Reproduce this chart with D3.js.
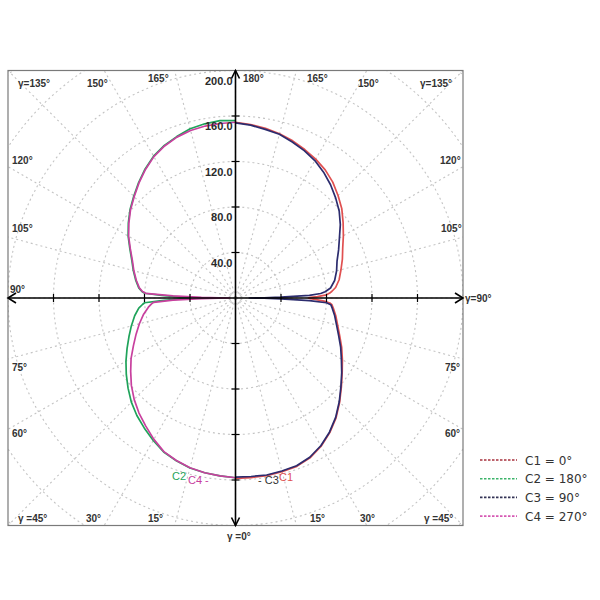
<!DOCTYPE html>
<html><head><meta charset="utf-8">
<script src="https://cdn.jsdelivr.net/npm/d3@7"></script>
<style>body{margin:0;background:#fff}svg{display:block}</style>
</head><body>
<svg id="chart" width="600" height="600"></svg>
<script>
// gamma angle (deg, 0 = straight down, 180 = straight up)
const gammaDeg = [0,5,10,15,20,25,30,35,40,45,50,55,60,65,70,75,80,84,86,87,88,89,89.5,90,90.5,91,92,93,94,96,100,105,110,115,120,125,130,135,140,145,150,155,160,165,170,175,180];
// C1 = 0° (right side)
const c1 = [158.5,158.5,158.5,158,157.5,155,150.5,144.5,137.5,129.5,121.5,114.5,108.5,103,97.5,93,89.5,86.5,85,83,78,70,66,64,66,72,80,83,85,88.5,92.5,96,100,104,109.5,115.5,122,127.5,133,137.5,141,144,147,149.5,151.5,153,154.5];
// C2 = 180° (left side)
const c2 = [158,157,156,154.7,152.2,149.4,144.6,139.7,134.9,129.5,123.3,117.2,111.2,105.2,99.7,94.8,90,85.5,82,80,65,48,42,40,42,48,65,80,82.5,85.5,89,93,97,102.5,109,115,121,126.5,132.5,138.5,144,148,151,154,155.5,156.5,156];
// C3 = 90° (right side)
const c3 = [157.5,157.5,158,157.5,157,154.5,150,144,137,129,121,114,107.5,102,96.5,92,88.5,85.5,84,80,65,40,25,12,25,40,65,75,79,84,88.5,92,95,100,105.5,112.5,119,124.5,130,135,139.5,143,146,149,150.5,152.5,154];
// C4 = 270° (left side)
const c4 = [158,157,156,154.5,152,149,143.5,137.5,132,126,119.5,112.5,106,99,93,87.5,82,77,74,72,55,30,15,5,15,30,55,79,82,85,88.5,92.5,96.5,102,108.5,114.5,120.5,126,132,138,143.5,147.5,150.5,152.5,153.5,154,154.5];

const seriesNames = ["C1 = 0°","C2 = 180°","C3 = 90°","C4 = 270°"];
const seriesSide = ["right","left","right","left"];
const seriesColors = ["#e05050","#1fa35a","#2c2c6e","#c8409e"];
const legendColors = ["#a8323e","#3cb46a","#333355","#d65ab4"];
const radialTicks = [40,80,120,160,200];
const radialTickLabels = ["40.0","80.0","120.0","160.0","200.0"];
const gridRadii = [40,80,120,160,200,240,280];
const spokeAngles = d3.range(0,360,15);

const svg = d3.select("#chart");
const cx = 235.5, cy = 298, R = 227.5;
const r = d3.scaleLinear().domain([0,200]).range([0,R]);

// clip to box
svg.append("defs").append("clipPath").attr("id","box")
  .append("rect").attr("x",cx-R).attr("y",cy-R).attr("width",2*R).attr("height",2*R);

// grid (drawn first, underneath)
const grid = svg.append("g").attr("clip-path","url(#box)").append("g").attr("transform",`translate(${cx},${cy})`);
grid.selectAll("circle.grid").data(gridRadii).join("circle")
  .attr("class","grid")
  .attr("r",d=>r(d)).attr("fill","none").attr("stroke","#c4c4c4")
  .attr("stroke-width",1.1).attr("stroke-dasharray","2,3");
grid.selectAll("line.spoke").data(spokeAngles).join("line")
  .attr("class","spoke")
  .attr("x1",0).attr("y1",0)
  .attr("x2",d=>Math.sin(d*Math.PI/180)*400).attr("y2",d=>-Math.cos(d*Math.PI/180)*400)
  .attr("stroke","#c4c4c4").attr("stroke-width",1.1).attr("stroke-dasharray","2,3");

// box
svg.append("rect").attr("x",cx-R).attr("y",cy-R).attr("width",2*R).attr("height",2*R)
  .attr("fill","none").attr("stroke","#7a7a7a").attr("stroke-width",1.2);

const g = svg.append("g").attr("transform",`translate(${cx},${cy})`);

// curves
const series = [c1,c2,c3,c4];
const drawOrder = [0,1,3,2];
drawOrder.forEach(i=>{
  const side = seriesSide[i];
  const line = d3.lineRadial()
    .angle((d,j)=> (side==="right" ? (180-gammaDeg[j]) : (180+gammaDeg[j]))*Math.PI/180)
    .radius(d=>r(d));
  g.append("path").datum(series[i]).attr("d",line)
    .attr("fill","none").attr("stroke",seriesColors[i]).attr("stroke-width",1.7)
    .attr("stroke-linejoin","round");
});

// axes
const ax = g.append("g").attr("stroke","#000").attr("fill","none").attr("stroke-width",1.6);
ax.append("line").attr("x1",-R).attr("x2",R).attr("y1",0).attr("y2",0);
ax.append("line").attr("x1",0).attr("x2",0).attr("y1",-R).attr("y2",R);
// arrows
ax.append("path").attr("d",`M${-R+8},-5 L${-R},0 L${-R+8},5`);
ax.append("path").attr("d",`M${R-8},-5 L${R},0 L${R-8},5`);
ax.append("path").attr("d",`M-4,${-R+8} L0,${-R} L4,${-R+8}`);
ax.append("path").attr("d",`M-4,${R-8} L0,${R} L4,${R-8}`);
// ticks
radialTicks.slice(0,4).forEach(v=>{
  [1,-1].forEach(s=>{
    ax.append("line").attr("x1",s*r(v)).attr("x2",s*r(v)).attr("y1",-4).attr("y2",4).attr("stroke-width",1.2);
    ax.append("line").attr("y1",s*r(v)).attr("y2",s*r(v)).attr("x1",-4).attr("x2",4).attr("stroke-width",1.2);
  });
});

// radial labels
g.selectAll("text.rl").data(radialTicks).join("text")
  .attr("class","rl")
  .attr("x",-3).attr("y",d=>-r(d)+14).attr("text-anchor","end")
  .attr("font-family","Liberation Sans, Arial, sans-serif").attr("font-size",11)
  .attr("font-weight","bold").attr("fill","#2a2a2a")
  .text((d,i)=>radialTickLabels[i]);

// angle labels (layout)
const angleLabelLayout = [
  ["γ=135°",18,87],["150°",87,87],["165°",148,82],["180°",243,82],["165°",307,82],["150°",358,87],["γ=135°",420,87],
  ["120°",12,164],["105°",12,232],["90°",10,293],["75°",12,371],["60°",12,437],
  ["120°",440,164],["105°",441,232],["75°",445,371],["60°",445,437],
  ["γ =45°",18,522],["30°",86,522],["15°",148,522],["15°",310,522],["30°",360,522],["γ =45°",424,522],
  ["γ=90°",465,302],["γ =0°",227,540]
];
svg.selectAll("text.al").data(angleLabelLayout).join("text")
  .attr("class","al")
  .attr("x",d=>d[1]).attr("y",d=>d[2])
  .attr("font-family","Liberation Sans, Arial, sans-serif").attr("font-size",10)
  .attr("font-weight","bold").attr("fill","#333")
  .text(d=>d[0]);

// curve annotations near bottom
const annLayout = [
  {i:1,text:"C2",x:172,y:480},
  {i:3,text:"C4 -",x:188,y:484},
  {i:2,text:"- C3",x:258,y:484},
  {i:0,text:"C1",x:279,y:481}
];
svg.selectAll("text.ann").data(annLayout).join("text")
  .attr("class","ann")
  .attr("x",d=>d.x).attr("y",d=>d.y)
  .attr("font-family","Liberation Sans, Arial, sans-serif").attr("font-size",11)
  .attr("fill",d=>d.i===2?"#333":seriesColors[d.i])
  .text(d=>d.text);

// legend
const leg = svg.append("g").attr("transform","translate(480,460)");
seriesNames.forEach((name,i)=>{
  const y = i*18.7;
  leg.append("line").attr("x1",0).attr("x2",37).attr("y1",y).attr("y2",y)
    .attr("stroke",legendColors[i]).attr("stroke-width",1.6).attr("stroke-dasharray","2.5,1.5");
  leg.append("text").attr("x",45).attr("y",y+4.5)
    .attr("font-family","DejaVu Sans, Verdana, sans-serif").attr("font-size",12)
    .attr("fill","#333").text(name);
});
</script>
</body></html>
